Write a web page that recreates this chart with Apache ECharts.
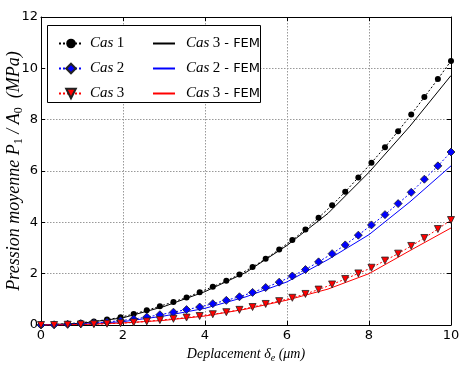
<!DOCTYPE html>
<html>
<head>
<meta charset="utf-8">
<script src="https://cdn.jsdelivr.net/npm/echarts@6/dist/echarts.min.js"></script>
<style>
  html, body { margin: 0; padding: 0; background: #fff; }
  #chart { width: 459px; height: 365px; }
</style>
</head>
<body>
<div id="chart"></div>
<script>
// displacement (um) for the measured cases
const dispCas = [0, 0.32, 0.65, 0.97, 1.29, 1.61, 1.94, 2.26, 2.58, 2.90, 3.23, 3.55, 3.87, 4.19, 4.52, 4.84,
  5.16, 5.48, 5.81, 6.13, 6.45, 6.77, 7.10, 7.42, 7.74, 8.06, 8.39, 8.71, 9.03, 9.35, 9.68, 10]
const cas1 = [0, 0.02, 0.05, 0.09, 0.14, 0.21, 0.30, 0.43, 0.57, 0.73, 0.90, 1.07, 1.28, 1.49, 1.72, 1.97,
  2.26, 2.58, 2.94, 3.31, 3.72, 4.18, 4.67, 5.19, 5.75, 6.32, 6.93, 7.55, 8.20, 8.88, 9.58, 10.29]
const cas2 = [0, 0.01, 0.03, 0.05, 0.08, 0.12, 0.17, 0.23, 0.31, 0.40, 0.50, 0.60, 0.70, 0.83, 0.96, 1.10,
  1.27, 1.46, 1.67, 1.91, 2.16, 2.46, 2.78, 3.12, 3.50, 3.90, 4.30, 4.73, 5.17, 5.68, 6.20, 6.74]
const cas3 = [0, 0, 0.01, 0.02, 0.03, 0.05, 0.07, 0.10, 0.14, 0.19, 0.24, 0.29, 0.35, 0.42, 0.50, 0.59,
  0.70, 0.82, 0.93, 1.06, 1.21, 1.38, 1.58, 1.79, 2.01, 2.23, 2.51, 2.78, 3.08, 3.39, 3.74, 4.09]

// FEM results
const dispFem = [0, 1, 2, 3, 4, 5, 6, 7, 8, 9, 10]
const fem1 = [0, 0.07, 0.28, 0.72, 1.30, 2.05, 3.10, 4.35, 5.95, 7.75, 9.72]
const fem2 = [0, 0.03, 0.13, 0.35, 0.65, 1.10, 1.68, 2.55, 3.52, 4.80, 6.20]
const fem3 = [0, 0.02, 0.08, 0.18, 0.35, 0.62, 0.97, 1.40, 2.00, 2.90, 3.78]

const xTicks = [0, 2, 4, 6, 8, 10]
const yTicks = [0, 2, 4, 6, 8, 10, 12]

// legend labels (black FEM curve is labelled "Cas 3 - FEM" in the original)
const legendLabels = {
  cas1: '{it|Cas} {n|1}',
  cas2: '{it|Cas} {n|2}',
  cas3: '{it|Cas} {n|3}',
  fem1: '{it|Cas} {n|3}{s| - FEM}',
  fem2: '{it|Cas} {n|2}{s| - FEM}',
  fem3: '{it|Cas} {n|3}{s| - FEM}',
}

const zip = (xs, ys) => xs.map((x, i) => [x, ys[i]])

const serif = "'Liberation Serif', 'DejaVu Serif', serif"
const sans = "'DejaVu Sans', sans-serif"

const legendRich = {
  it: { fontFamily: serif, fontStyle: 'italic', fontSize: 15, color: '#000' },
  n: { fontFamily: serif, fontSize: 15, color: '#000' },
  s: { fontFamily: sans, fontSize: 13, color: '#000' },
}

const chart = echarts.init(document.getElementById('chart'), null, { renderer: 'canvas' })

const casSeries = (name, data, color, symbol, rotate, size) => ({
  name,
  type: 'line',
  data: zip(dispCas, data),
  symbol,
  symbolSize: size,
  symbolRotate: rotate,
  showAllSymbol: true,
  z: 4,
  itemStyle: { color, borderColor: '#222', borderWidth: symbol === 'circle' ? 0 : 0.8 },
  lineStyle: { color, width: 1, type: [2, 2] },
  emphasis: { disabled: true },
})

const femSeries = (name, data, color) => ({
  name,
  type: 'line',
  data: zip(dispFem, data),
  symbol: 'none',
  z: 3,
  lineStyle: { color, width: 1 },
  itemStyle: { color },
  emphasis: { disabled: true },
})

const option = {
  backgroundColor: '#fff',
  animation: false,
  grid: { left: 41, right: 8, top: 17, bottom: 40, outerBoundsMode: 'none' },
  xAxis: [
    {
      type: 'value', min: 0, max: 10, interval: 2,
      name: '{it|Deplacement δ}{sub|e}{it| (}{n|μm}{it|)}',
      nameLocation: 'middle', nameGap: 20,
      nameTextStyle: {
        rich: {
          it: { fontFamily: serif, fontStyle: 'italic', fontSize: 14, color: '#000' },
          n: { fontFamily: serif, fontStyle: 'italic', fontSize: 14, color: '#000' },
          sub: { fontFamily: serif, fontStyle: 'italic', fontSize: 10, color: '#000', padding: [8, 0, 0, 0] },
        },
      },
      axisLine: { show: true, onZero: false, lineStyle: { color: '#000', width: 1 } },
      axisTick: { show: true, inside: true, length: 4, lineStyle: { color: '#000' } },
      axisLabel: { fontFamily: sans, fontSize: 13, color: '#000', margin: 4,
        formatter: v => xTicks.includes(v) ? String(v) : '' },
      splitLine: { show: true, lineStyle: { color: '#999', type: [1.5, 1.5], width: 1 } },
    },
    {
      type: 'value', min: 0, max: 10, interval: 2, position: 'top',
      axisLine: { show: true, onZero: false, lineStyle: { color: '#000', width: 1 } },
      axisTick: { show: true, inside: true, length: 4, lineStyle: { color: '#000' } },
      axisLabel: { show: false },
      splitLine: { show: false },
    },
  ],
  yAxis: [
    {
      type: 'value', min: 0, max: 12, interval: 2,
      name: '{it|Pression moyenne P}{sub|1}{it| / A}{sub|0}{it|  (MPa)}',
      nameLocation: 'middle', nameGap: 27, nameMoveOverlap: false,
      nameTextStyle: {
        align: 'center', verticalAlign: 'middle',
        rich: {
          it: { fontFamily: serif, fontStyle: 'italic', fontSize: 18, color: '#000' },
          sub: { fontFamily: serif, fontSize: 12, color: '#000', padding: [9, 0, 0, 0] },
        },
      },
      axisLine: { show: true, onZero: false, lineStyle: { color: '#000', width: 1 } },
      axisTick: { show: true, inside: true, length: 4, lineStyle: { color: '#000' } },
      axisLabel: { fontFamily: sans, fontSize: 13, color: '#000', margin: 3,
        formatter: v => yTicks.includes(v) ? String(v) : '' },
      splitLine: { show: true, lineStyle: { color: '#999', type: [1.5, 1.5], width: 1 } },
    },
    {
      type: 'value', min: 0, max: 12, interval: 2, position: 'right',
      axisLine: { show: true, onZero: false, lineStyle: { color: '#000', width: 1 } },
      axisTick: { show: true, inside: true, length: 4, lineStyle: { color: '#000' } },
      axisLabel: { show: false },
      splitLine: { show: false },
    },
  ],
  graphic: [
    {
      type: 'rect', left: 47, top: 25, z: 5,
      shape: { width: 213, height: 77 },
      style: { fill: '#fff', stroke: '#000', lineWidth: 1 },
    },
  ],
  legend: [
    {
      left: 53, top: 31, orient: 'vertical', itemGap: 10,
      itemWidth: 24, itemHeight: 12, z: 6,
      data: ['cas1', 'cas2', 'cas3'],
      formatter: name => legendLabels[name],
      textStyle: { rich: legendRich, padding: [0, 0, 0, 2] },
    },
    {
      left: 147, top: 31, orient: 'vertical', itemGap: 10,
      itemWidth: 22, itemHeight: 12, z: 6,
      data: ['fem1', 'fem2', 'fem3'],
      formatter: name => legendLabels[name],
      itemStyle: { color: 'transparent', borderColor: 'transparent', borderWidth: 0 },
      textStyle: { rich: legendRich, padding: [0, 0, 0, 6] },
    },
  ],
  series: [
    casSeries('cas1', cas1, '#000', 'circle', 0, 6),
    casSeries('cas2', cas2, '#0000ff', 'diamond', 0, 8),
    casSeries('cas3', cas3, '#ff0000', 'triangle', 180, 7),
    femSeries('fem1', fem1, '#000'),
    femSeries('fem2', fem2, '#0000ff'),
    femSeries('fem3', fem3, '#ff0000'),
  ],
}

chart.setOption(option)
</script>
</body>
</html>
